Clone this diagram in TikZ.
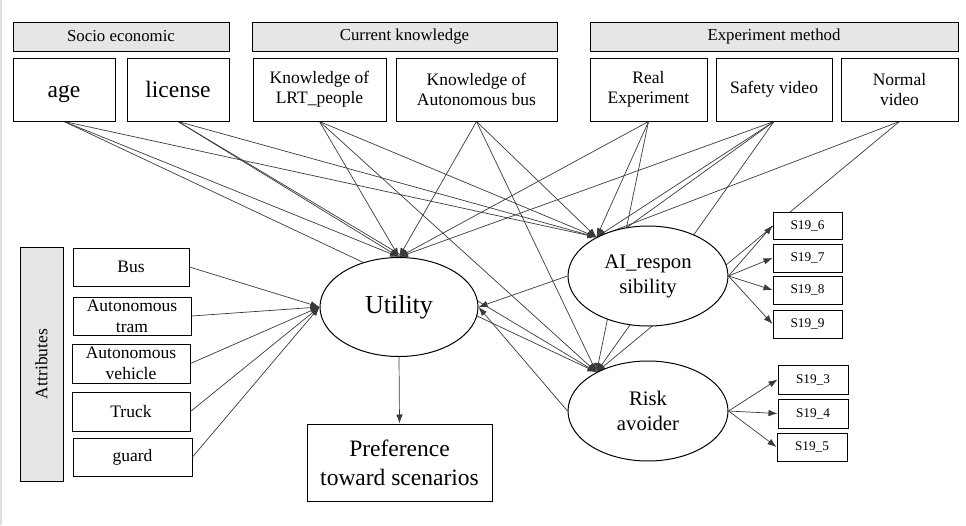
\documentclass[tikz,border=0pt]{standalone}
\usepackage{fontspec}
\setmainfont{Liberation Serif}
\usepackage{tikz}
\usetikzlibrary{arrows.meta, shapes.geometric, backgrounds, positioning}
\definecolor{hdrgray}{HTML}{E6E6E6}
\definecolor{linegray}{HTML}{3A3A3A}
\tikzset{
	hdr/.style={draw, line width=1pt, fill=hdrgray, inner sep=0pt, minimum height=29pt, font=\fontsize{16.8}{18}\selectfont},
	obs/.style={draw, line width=1pt, fill=white, inner sep=0pt, minimum height=63pt, align=center, font=\fontsize{17.5}{20}\selectfont},
	big/.style={font=\fontsize{23.5}{26}\selectfont, text height=16pt, text depth=0pt},
	attr/.style={draw, line width=1pt, fill=white, inner sep=0pt, minimum width=118pt, minimum height=38pt, align=center, font=\fontsize{17.5}{21}\selectfont},
	latent/.style={draw, ellipse, line width=1pt, fill=white, inner sep=0pt, minimum width=160pt, minimum height=100pt, align=center, font=\fontsize{20.7}{25}\selectfont},
	indic/.style={draw, line width=1pt, fill=white, inner sep=0pt, minimum width=69pt, minimum height=28pt, font=\fontsize{13.3}{15}\selectfont},
	reg/.style={linegray, line width=0.7pt, -{Latex[length=9pt,width=6.5pt]}},
	thru/.style={linegray, line width=0.7pt},
}

\begin{document}
\begin{tikzpicture}[x=1pt, y=-1pt]
				\useasboundingbox (0,0) rectangle (966,525);
				\draw[gray!25, line width=2pt] (1,0) -- (1,525);
				\node[hdr, minimum width=216pt] (socio) at (121,36.5) {Socio economic};
				\node[hdr, minimum width=305pt] (know) at (404.5,36.5) {Current knowledge};
				\node[hdr, minimum width=368pt] (expm) at (774,36.5) {Experiment method};
				\node[obs, big, minimum width=102pt] (age) at (64,89.5) {age};
				\node[obs, big, minimum width=102pt] (lic) at (178,89.5) {license};
				\node[obs, minimum width=133pt] (lrt) at (319.5,89.5) {Knowledge of\\LRT\_people};
				\node[obs, minimum width=161pt] (abus) at (476.5,89.5) {Knowledge of\\Autonomous bus};
				\node[obs, minimum width=117pt] (real) at (648.5,89.5) {Real\\Experiment};
				\node[obs, minimum width=116pt] (safe) at (774,89.5) {Safety video};
				\node[obs, minimum width=117pt] (norm) at (899.5,89.5) {Normal\\video};
				\node[hdr, rotate=90, minimum width=234pt, minimum height=43pt, font=\fontsize{17.5}{20}\selectfont] (attrib) at (41.5,364) {Attributes};
				\node[attr, minimum width=116pt] (bus) at (131,267) {Bus};
				\node[attr] (tram) at (132,316) {Autonomous\\tram};
				\node[attr, minimum height=39pt] (veh) at (131,363.5) {Autonomous\\vehicle};
				\node[attr, minimum height=39pt] (truck) at (131,411.5) {Truck};
				\node[attr, minimum width=119pt] (guard) at (132.5,457) {guard};
				\node[latent, minimum width=158pt, minimum height=99pt, font=\fontsize{26}{30}\selectfont] (util) at (399,307) {Utility};
				\node[latent] (ai) at (648,276) {AI\_respon\\sibility};
				\node[latent] (risk) at (648,411) {Risk\\avoider};
				\node[draw, line width=1pt, fill=white, inner sep=0pt, minimum width=185pt, minimum height=77pt, align=center, font=\fontsize{23.5}{29}\selectfont] (pref) at (399.5,462.5) {Preference\\toward scenarios};
				\node[indic, minimum height=27pt] (s196) at (807.5,225.5) {S19\_6};
				\node[indic] (s197) at (807.5,258) {S19\_7};
				\node[indic] (s198) at (807.5,290) {S19\_8};
				\node[indic] (s199) at (807.5,324) {S19\_9};
				\node[indic, minimum width=70pt, minimum height=29pt] (s193) at (813,379.5) {S19\_3};
				\node[indic, minimum width=70pt, minimum height=29pt] (s194) at (813,413.5) {S19\_4};
				\node[indic, minimum width=70pt] (s195) at (812,447) {S19\_5};
				\begin{pgfonlayer}{background}
				\draw[reg] (age.south) -- (util.north);
				\draw[reg] (age.south) -- (ai.143);
				\draw[reg] (age.south) -- (risk.143);
				\draw[reg] (lic.south) -- (util.north);
				\draw[reg] (lic.south) -- (ai.143);
				\draw[reg] (lic.south) -- (risk.143);
				\draw[reg] (lrt.south) -- (util.north);
				\draw[reg] (lrt.south) -- (ai.143);
				\draw[reg] (lrt.south) -- (risk.143);
				\draw[reg] (abus.south) -- (util.north);
				\draw[reg] (abus.south) -- (ai.143);
				\draw[reg] (abus.south) -- (risk.143);
				\draw[reg] (real.south) -- (util.north);
				\draw[reg] (real.south) -- (ai.143);
				\draw[reg] (real.south) -- (risk.143);
				\draw[reg] (safe.south) -- (util.north);
				\draw[reg] (safe.south) -- (ai.143);
				\draw[reg] (safe.south) -- (risk.143);
				\draw[thru] (safe.south) -- (ai.113);
				\draw[reg] (norm.south) -- (ai.143);
				\draw[reg] (norm.south) -- (risk.143);
				\end{pgfonlayer}
				\draw[reg] (bus.east) -- (util.west);
				\draw[reg] (tram.east) -- (util.west);
				\draw[reg] (veh.east) -- (util.west);
				\draw[reg] (truck.east) -- (util.west);
				\draw[reg] (guard.east) -- (util.west);
				\draw[reg] (ai.west) -- (util.east);
				\draw[reg] (risk.west) -- (util.east);
				\draw[reg] (util.south) -- (pref.north);
				\draw[reg] (ai.east) -- (s196.west);
				\draw[reg] (ai.east) -- (s197.west);
				\draw[reg] (ai.east) -- (s198.west);
				\draw[reg] (ai.east) -- (s199.west);
				\draw[reg] (risk.east) -- (s193.west);
				\draw[reg] (risk.east) -- (s194.west);
				\draw[reg] (risk.east) -- (s195.west);
			\end{tikzpicture}
\end{document}
